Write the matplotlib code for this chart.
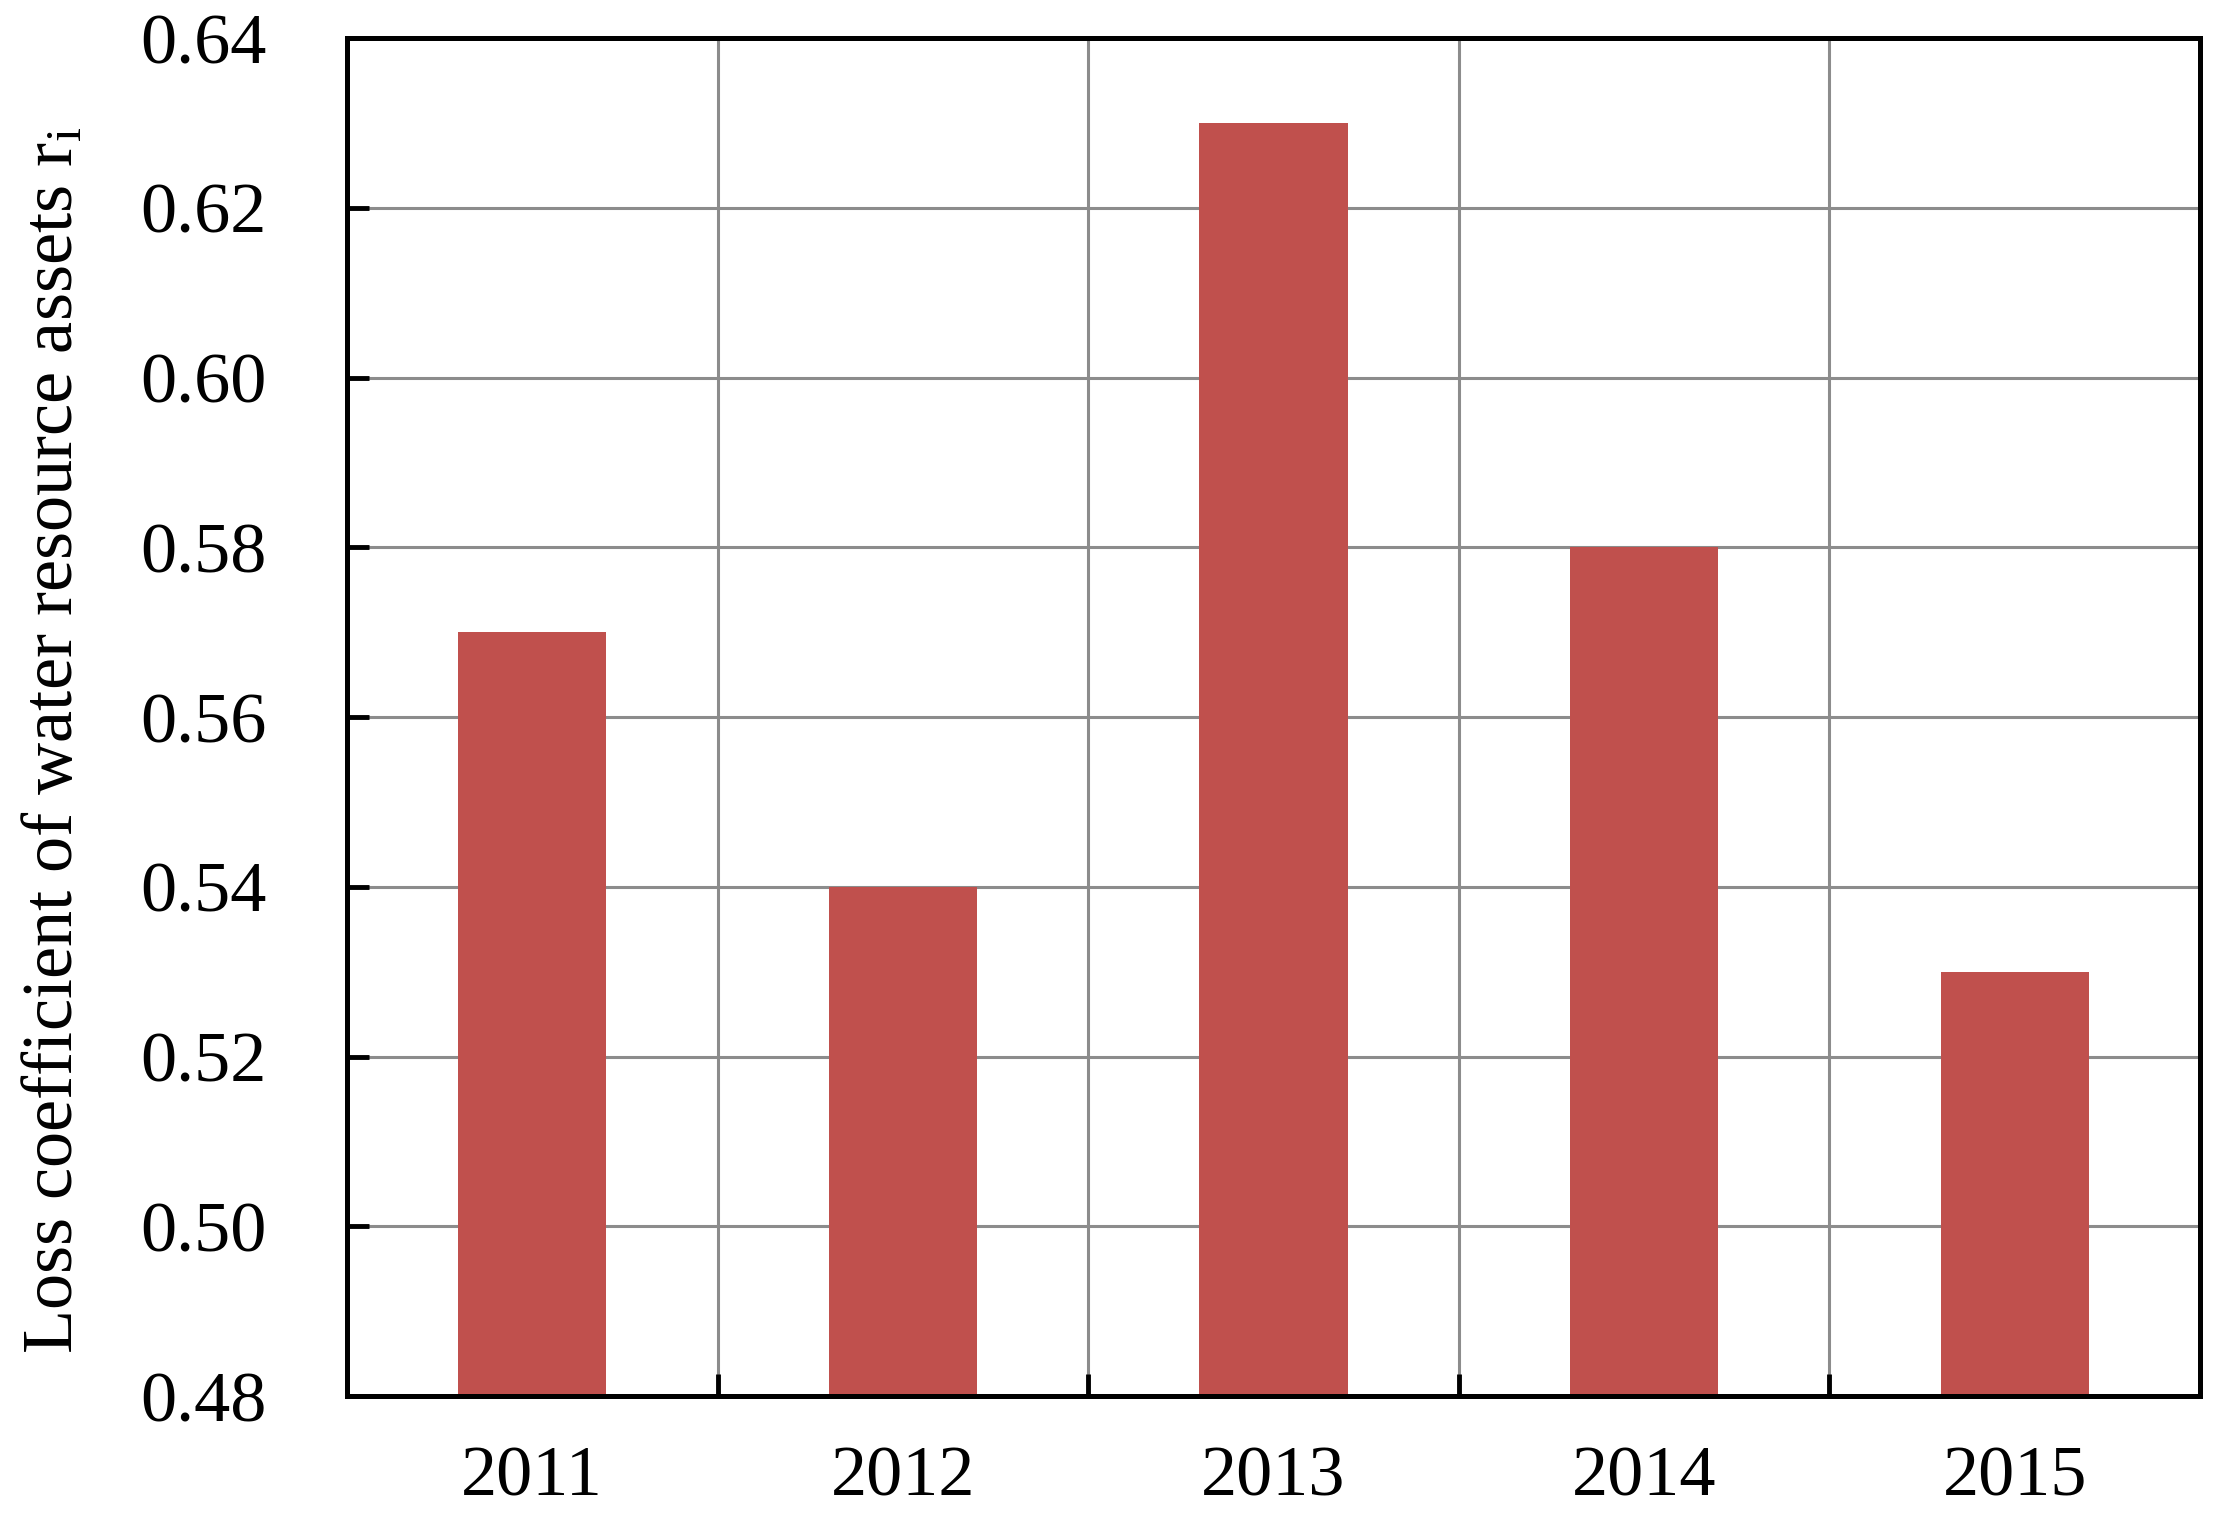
import numpy as np
import matplotlib
matplotlib.use("Agg")
import matplotlib.pyplot as plt

# --- DATA ---
years = ['2011', '2012', '2013', '2014', '2015']
loss_coef = [0.57, 0.54, 0.63, 0.58, 0.53]
y_ticks = [0.48, 0.50, 0.52, 0.54, 0.56, 0.58, 0.60, 0.62, 0.64]

plt.rcParams['font.family'] = ['Liberation Serif', 'DejaVu Serif']
plt.rcParams['mathtext.fontset'] = 'custom'
plt.rcParams['mathtext.rm'] = 'Liberation Serif'
plt.rcParams['mathtext.it'] = 'Liberation Serif:italic'

W, H = 2220, 1524
fig = plt.figure(figsize=(W / 100, H / 100), dpi=100)
ax = fig.add_axes([347 / W, 1 - 1396 / H, (2200 - 347) / W, (1396 - 38) / H])

x = np.arange(len(years))
ax.bar(x, loss_coef, width=0.4, bottom=0, color='#C0504D', zorder=3)

ax.set_xlim(-0.5, len(years) - 0.5)
ax.set_ylim(0.48, 0.64)
ax.set_yticks(y_ticks)
ax.set_yticklabels([f'{v:.2f}' for v in y_ticks])
ax.set_xticks(x)
ax.set_xticklabels(years)
ax.set_xticks(np.arange(0.5, len(years) - 0.5, 1.0), minor=True)

# grid: horizontal at y ticks, vertical at category boundaries
ax.grid(axis='y', which='major', color='#8c8c8c', linewidth=2.2, zorder=1)
ax.grid(axis='x', which='minor', color='#8c8c8c', linewidth=2.2, zorder=1)
ax.set_axisbelow(True)

ax.tick_params(axis='x', which='major', length=0, pad=36, labelsize=52)
ax.tick_params(axis='x', which='minor', direction='in', length=16, width=3.5,
               color='black')
ax.tick_params(axis='y', which='major', direction='in', length=16, width=3.5,
               pad=58, labelsize=52)

for s in ax.spines.values():
    s.set_linewidth(3.6)
    s.set_color('black')
    s.set_zorder(4)

fig.text(55 / W, 1 - 740 / H, 'Loss coefficient of water resource assets r$_\\mathrm{i}$',
         rotation=90, ha='center', va='center', fontsize=52)

fig.savefig('out.png', dpi=100)
